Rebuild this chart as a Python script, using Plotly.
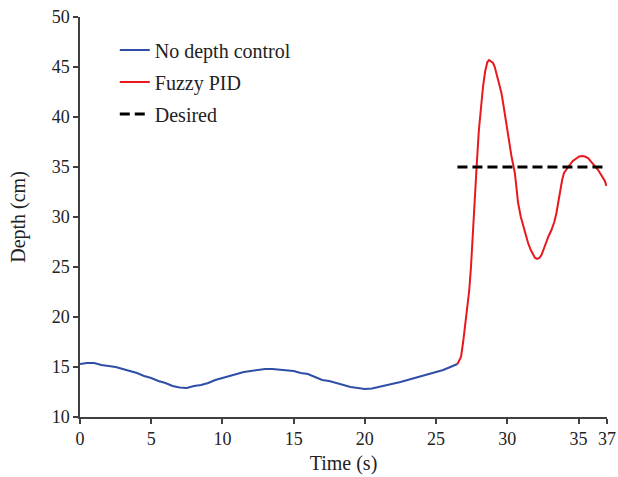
import plotly.graph_objects as go

# No depth control (blue)
t_blue = [0, 0.5, 1, 1.5, 2, 2.5, 3, 3.5, 4, 4.5, 5, 5.5, 6, 6.5, 7, 7.5, 8, 8.5, 9, 9.5,
          10, 10.5, 11, 11.5, 12, 12.5, 13, 13.5, 14, 14.5, 15, 15.5, 16, 16.5, 17, 17.5,
          18, 18.5, 19, 19.5, 20, 20.5, 21, 21.5, 22, 22.5, 23, 23.5, 24, 24.5, 25, 25.5,
          26, 26.5]
d_blue = [15.3, 15.4, 15.4, 15.2, 15.1, 15.0, 14.8, 14.6, 14.4, 14.1, 13.9, 13.6, 13.4, 13.1,
          12.95, 12.9, 13.1, 13.2, 13.4, 13.7, 13.9, 14.1, 14.3, 14.5, 14.6, 14.7, 14.8, 14.8,
          14.75, 14.7, 14.6, 14.4, 14.3, 14.0, 13.7, 13.6, 13.4, 13.2, 13.0, 12.9, 12.8, 12.85,
          13.0, 13.2, 13.3, 13.5, 13.7, 13.9, 14.1, 14.3, 14.5, 14.7, 15.0, 15.3]

# Fuzzy PID (red)
t_red = [26.5, 26.75, 26.9, 27.05, 27.2, 27.33, 27.45, 27.57, 27.7, 27.85, 28.0, 28.15, 28.3,
         28.45, 28.6, 28.72, 28.85, 29.0, 29.12, 29.24, 29.4, 29.59, 29.75, 29.94, 30.1, 30.29,
         30.53, 30.76, 30.95, 31.11, 31.3, 31.46, 31.65, 31.81, 31.95, 32.1, 32.25, 32.4,
         32.55, 32.75, 32.9, 33.1, 33.3, 33.45, 33.68, 33.85, 33.98, 34.15, 34.38, 34.6,
         34.85, 35.05, 35.25, 35.45, 35.67, 35.85, 36.03, 36.2, 36.38, 36.55, 36.73, 36.85,
         36.96]
d_red = [15.3, 16.0, 17.5, 19.3, 21.2, 22.7, 25.0, 27.7, 31.3, 35.1, 38.6, 41.0, 43.1,
         44.6, 45.5, 45.7, 45.6, 45.4, 45.0, 44.4, 43.6, 42.4, 41.0, 39.1, 37.7, 36.1,
         34.4, 31.4, 30.0, 29.1, 28.2, 27.4, 26.7, 26.2, 25.9, 25.8, 25.9, 26.2,
         26.8, 27.7, 28.1, 28.7, 29.5, 30.4, 32.4, 33.7, 34.4, 34.8, 35.2, 35.6,
         35.9, 36.05, 36.1, 36.05, 35.9, 35.6, 35.3, 35.1, 34.7, 34.3, 33.9, 33.6,
         33.1]

# Desired depth
t_des = [26.5, 37]
d_des = [35, 35]

x_ticks = [0, 5, 10, 15, 20, 25, 30, 35, 37]
y_ticks = [10, 15, 20, 25, 30, 35, 40, 45, 50]

FONT = "Liberation Serif, Times New Roman, serif"
AX = "#404040"
TXT = "#222222"

fig = go.Figure()
fig.add_trace(go.Scatter(x=t_blue, y=d_blue, mode="lines", name="No depth control",
                         line=dict(color="#2f4ea6", width=2), legendgroup="a"))
fig.add_trace(go.Scatter(x=t_red, y=d_red, mode="lines", name="Fuzzy PID",
                         line=dict(color="#e8181c", width=2), legendgroup="b"))
fig.add_trace(go.Scatter(x=t_des, y=d_des, mode="lines", name="Desired",
                         line=dict(color="black", width=3, dash="10px,5px"), legendgroup="c"))

fig.update_layout(
    width=618, height=477,
    margin=dict(l=80, r=11, t=17, b=60, autoexpand=False),
    paper_bgcolor="white", plot_bgcolor="white",
    font=dict(family=FONT, size=18, color=TXT),
    showlegend=True,
    legend=dict(x=0.066, y=0.966, xanchor="left", yanchor="top", bgcolor="rgba(0,0,0,0)",
                tracegroupgap=3, font=dict(family=FONT, size=20, color=TXT)),
    xaxis=dict(range=[0, 37], tickvals=x_ticks, ticktext=[str(v) for v in x_ticks],
               showgrid=False, zeroline=False, showline=True, linecolor=AX, linewidth=1.5,
               ticks="outside", ticklen=5, tickcolor=AX, tickwidth=1.5, automargin=False,
               tickfont=dict(family=FONT, size=18, color=TXT),
               title=dict(text="Time (s)", standoff=8, font=dict(family=FONT, size=20, color=TXT))),
    yaxis=dict(range=[10, 50], tickvals=y_ticks, showgrid=False, zeroline=False,
               showline=True, linecolor=AX, linewidth=1.5, automargin=False,
               ticks="outside", ticklen=5, tickcolor=AX, tickwidth=1.5,
               tickfont=dict(family=FONT, size=18, color=TXT),
               title=dict(text="Depth (cm)", standoff=21, font=dict(family=FONT, size=20, color=TXT))),
)

fig.write_html("out.html", config={"displayModeBar": False},
               post_script="document.body.style.margin='0';")
